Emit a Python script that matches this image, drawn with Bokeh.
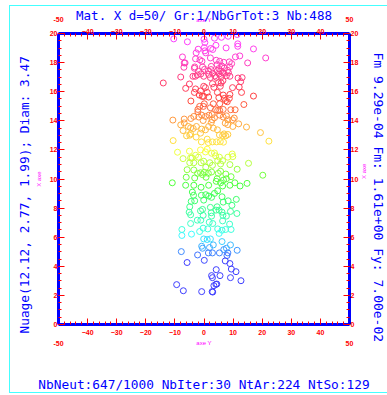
import colorsys
import numpy as np
from bokeh.plotting import figure
from bokeh.models import Title, FixedTicker, LinearAxis, LinearColorMapper, ColumnDataSource
from bokeh.transform import transform
from bokeh.embed import file_html
from bokeh.resources import INLINE

# horizontal coordinate ("axe Y") and vertical coordinate ("X axe") of each neutron
axe_y = [-10.4, -5.7, 0.0, 0.3, 3.6, 6.0, 8.3, 11.4, 11.6, 11.6, 4.1, 2.3, 0.1, -2.0, -2.7, 0.3, 0.6, 3.0, 7.6, 17.0,
         -7.4, -6.8, -6.5, -6.9, -2.9, -1.4, -0.7, 2.2, 4.2, 5.4, 6.8, 8.7, 9.5, 10.8, 12.3, 15.0, 21.2, -3.2, -3.3, -0.5,
         0.2, 2.5, 2.4, 4.5, 5.1, 6.1, 7.0, 5.7, 8.1, 8.8, -1.9, 1.5, 4.6, 6.5,
         -14.0, -8.0, -3.8, -3.0, -2.3, -1.1, -0.1, 1.6, 2.2, 3.0, 3.7, 4.2, 5.2, 6.0, 6.8, 7.7, 8.4, 8.9, 11.7, 12.6,
         13.1, 12.1, 12.9, 17.0, -6.3, -5.0, -2.9, -3.3, -1.2, -1.6, -0.1, 0.5, -0.6, -0.1, 1.1, 1.6, 2.9, 3.4, 5.0, 5.9,
         5.6, 6.5, 4.6, 5.1, 6.6, 7.0, 7.4, 8.0, 8.9, 8.7, 9.8, -4.5, 0.1, -0.2, -1.5, -2.1, 3.2, 5.4, 6.6, 9.2,
         10.7, 13.7, 2.2, 4.0, 5.4,
         -10.7, -10.6, -8.0, -6.8, -6.8, -7.2, -4.5, -3.5, -2.1, -1.8, -0.8, -0.3, 0.5, 1.7, 2.8, 2.5, 2.8, 3.6, 4.7, 5.4,
         6.6, 7.7, 8.2, 7.3, 8.2, 9.8, 9.9, 10.4, 11.9, 14.6, 19.4, 22.3, -5.4, -4.6, -3.7, -2.6, -0.8, -1.2, 0.5, 1.6,
         3.2, 4.6, 5.3, 6.4, 6.9, 7.5, 8.2, -6.0, -4.9, -4.6, -2.7, -0.9, 1.1, 1.5, 2.9, 4.3, 5.6, 6.7,
         -9.1, -7.2, -5.0, -4.6, -4.9, -3.5, -4.1, -2.9, -1.9, -1.2, 0.5, 1.1, 2.6, 3.6, 4.0, 4.7, 5.3, 6.4, 5.7, 8.2,
         9.7, 9.9, 8.9, 15.3, -1.0, -0.1, 2.0, 2.9, 0.6, -5.8, -3.5, -2.2, -1.2, -0.5, 0.1, 1.5, 2.6, 4.9, 5.7, 7.5,
         11.4, 7.7, 9.3, 20.2, -10.9, -6.1, -3.2, 0.7, 4.5, 6.7, -6.3, -3.5, -1.0, 1.6, 4.2, 5.7, 6.4, 8.9, 10.6, 12.4,
         14.8,
         -4.0, -3.6, -0.9, -0.1, 0.6, 1.6, 2.6, 3.6, 4.7, -4.4, -3.2, 6.2, 6.6, 8.3, 11.1, -4.9, -5.1, -4.6, -1.2, -0.5,
         -0.3, -2.3, -1.1, 2.5, 2.6, 2.2, 4.5, 4.1, 5.2, 6.2, 6.5, 9.1, 9.6, 11.3, 7.7, -4.6, 1.8, 3.0, 6.4, 8.8,
         -7.6, -7.6, -4.3, -1.5, -0.3, 1.3, -0.1, 1.1, 2.2, 4.7, 6.2, 7.4, 9.3, 5.2, 6.2, -0.8, -0.5, 1.9, 3.2, 2.9,
         1.5, 5.3, 6.8, 7.7, 8.2, 7.9, 9.1, 11.4, -7.8, -2.2, 0.1, -5.8, 7.3, 8.9,
         9.4, 4.2, 11.0, 2.6, 2.9, 5.5, 9.1, 12.7, 4.1, 4.4, 3.4, -9.4, -7.1, -0.8, 2.8, 3.0]
axe_x = [19.63, 19.43, 19.61, 19.38, 19.68, 19.74, 19.81, 19.93, 19.29, 19.12, 19.19, 18.97, 19.03, 18.92, 18.67, 18.81,
         18.67, 18.90, 19.01, 18.94,
         18.39, 17.98, 17.98, 17.68, 18.26, 18.19, 18.09, 18.32, 18.16, 18.09, 18.02, 18.05, 17.93, 18.39, 18.46, 17.98,
         18.32, 17.70, 17.61, 17.70, 17.54, 17.74, 17.52, 17.86, 17.59, 17.77, 17.63, 17.43, 17.47, 17.70, 17.40, 17.43,
         17.43, 17.31,
         16.60, 17.01, 17.06, 17.06, 17.15, 17.22, 17.06, 17.19, 16.97, 17.26, 17.08, 16.99, 17.22, 17.03, 17.26, 17.10,
         17.31, 17.06, 16.94, 16.69, 16.97, 16.32, 15.95, 15.70, 16.23, 16.53, 16.19, 15.95, 16.05, 15.77, 16.37, 16.28,
         15.68, 15.68, 15.95, 15.63, 16.55, 16.30, 16.62, 16.60, 16.37, 16.76, 15.95, 15.59, 15.77, 15.54, 15.38, 15.31,
         15.81, 15.54, 16.28, 15.36, 15.17, 14.99, 14.99, 14.78, 15.17, 15.17, 14.78, 14.76, 14.76, 15.12, 14.90, 14.76,
         14.71,
         14.05, 12.64, 13.72, 13.86, 14.12, 13.33, 14.16, 14.30, 14.62, 14.26, 14.39, 14.02, 14.30, 14.39, 14.43, 13.88,
         14.07, 14.21, 14.71, 14.39, 14.26, 14.34, 14.07, 13.84, 13.74, 14.07, 13.61, 14.19, 13.79, 13.57, 13.19, 12.60,
         13.61, 13.52, 13.47, 13.61, 13.43, 13.15, 13.38, 13.61, 13.50, 13.38, 13.03, 12.99, 13.10, 12.97, 13.06, 12.97,
         13.01, 13.10, 12.88, 12.55, 12.74, 12.50, 12.55, 12.55, 12.57, 12.53,
         11.84, 11.40, 11.91, 11.45, 11.12, 11.12, 11.45, 11.63, 11.50, 12.00, 11.86, 12.05, 11.77, 11.79, 11.59, 11.26,
         11.50, 11.26, 11.03, 11.50, 11.72, 11.54, 10.99, 11.08, 11.12, 11.22, 11.12, 10.94, 10.81, 10.64, 10.62, 10.39,
         10.43, 10.30, 10.46, 10.39, 10.48, 10.39, 10.53, 10.34, 10.67, 10.02, 10.16, 10.26, 9.74, 10.12, 10.07, 10.12,
         10.02, 9.93, 9.57, 9.57, 9.43, 9.57, 9.84, 9.74, 9.52, 9.57, 9.74, 9.52, 9.70,
         9.10, 8.88, 8.88, 8.55, 8.92, 8.83, 8.74, 9.01, 9.19, 8.46, 8.50, 8.78, 8.41, 8.50, 8.60, 8.09, 7.72, 7.54, 7.81,
         7.91, 7.50, 7.17, 7.17, 7.68, 7.45, 8.05, 8.09, 7.86, 7.86, 7.72, 7.50, 7.77, 8.19, 7.63, 7.45, 6.94, 7.03, 6.94,
         7.12, 6.90,
         6.53, 6.12, 6.21, 6.39, 6.62, 6.57, 5.88, 5.84, 5.88, 6.57, 6.48, 6.53, 6.53, 6.26, 5.70, 5.38, 5.24, 5.29, 5.47,
         4.92, 4.92, 4.92, 5.15, 5.24, 4.92, 4.74, 5.47, 5.10, 5.01, 4.78, 4.41, 4.26, 4.37, 4.19,
         3.81, 3.77, 3.63, 3.36, 3.22, 3.36, 3.22, 3.01, 2.76, 2.78, 2.67, 2.74, 2.32, 2.26, 2.26, 2.23]

x_ticks = [-50, -40, -30, -20, -10, 0, 10, 20, 30, 40, 50]
y_ticks = [0, 2, 4, 6, 8, 10, 12, 14, 16, 18, 20]

title_text = "Mat. X d=50/ Gr:1/NbGrTot:3 Nb:488"
bottom_text = "NbNeut:647/1000 NbIter:30 NtAr:224 NtSo:129"
left_text = "Nuage(12.12, 2.77, 1.99); Diam: 3.47"
right_text = "Fm 9.29e-04 Fm: 1.61e+00 Fy: 7.00e-02"

# rainbow colour scale along the vertical coordinate (hue anchors, degrees)
hue_at = [2, 4.3, 5, 6.5, 8, 9, 10, 11, 12, 13, 14, 15, 16, 17, 18, 19, 20]
hue_deg = [240, 240, 215, 170, 145, 125, 110, 85, 60, 45, 30, 10, -5, -20, -40, -55, -65]
palette = []
for v in np.linspace(2, 20, 256):
    h = (np.interp(v, hue_at, hue_deg) % 360) / 360
    r, g, b = colorsys.hsv_to_rgb(h, 0.75, 1.0)
    palette.append("#%02x%02x%02x" % (int(r * 255), int(g * 255), int(b * 255)))
mapper = LinearColorMapper(palette=palette, low=2, high=20)

src = ColumnDataSource(dict(y=axe_y, x=axe_x))

# frame sits at page x 58..349, y 33..324; the canvas is pinned so that its borders are roomy
BL, BT, BR, BB = 70, 45, 55, 115
OX, OY = 58 - BL, 33 - BT
W, H = BL + 291 + BR, BT + 291 + BB
cy = "#44ffff"
p = figure(width=W, height=H, x_range=(-50, 50), y_range=(0, 20),
           output_backend="svg", toolbar_location=None, tools="",
           min_border_left=BL, min_border_right=BR, min_border_top=BT, min_border_bottom=BB,
           background_fill_color="white", border_fill_alpha=0)
p.styles = {
    "position": "fixed", "left": "%dpx" % OX, "top": "%dpx" % OY,
    "width": "%dpx" % W, "height": "%dpx" % H, "max-width": "none", "max-height": "none",
    "background-color": "white",
    "background-image": "linear-gradient(%s,%s), linear-gradient(%s,%s), linear-gradient(%s,%s)" % (cy, cy, cy, cy, cy, cy),
    "background-size": "1px 388px, %dpx 1px, %dpx 1px" % (W, W),
    "background-position": "%dpx %dpx, %dpx %dpx, %dpx %dpx" % (9 - OX, 5 - OY, 9 - OX, 5 - OY, 9 - OX, 392 - OY),
    "background-repeat": "no-repeat",
}
p.grid.visible = False
p.outline_line_color = None

p.add_layout(LinearAxis(), "above")
p.add_layout(LinearAxis(), "right")

xt = FixedTicker(ticks=x_ticks, minor_ticks=list(range(-50, 51, 2)))
yt = FixedTicker(ticks=y_ticks, minor_ticks=[v / 2 for v in range(0, 41)])
for ax in p.axis:
    ax.axis_line_color = "blue"
    ax.axis_line_width = 3
    ax.major_tick_line_color = "red"
    ax.minor_tick_line_color = "red"
    ax.major_tick_in = 6
    ax.major_tick_out = 0
    ax.minor_tick_in = 3
    ax.minor_tick_out = 0
    ax.major_label_text_color = "red"
    ax.major_label_text_font = "Liberation Sans"
    ax.major_label_text_font_style = "bold"
    ax.major_label_text_font_size = "7px"
    ax.major_label_text_line_height = 1.6
    ax.axis_label_text_color = "magenta"
    ax.axis_label_text_font = "Liberation Sans"
    ax.axis_label_text_font_style = "normal"
    ax.axis_label_text_font_size = "6px"
for ax in p.xaxis:
    ax.ticker = xt
    ax.axis_label = "axe Y"
for ax in p.yaxis:
    ax.ticker = yt
    ax.axis_label = "X axe"

top, bottom, left, right = p.above[0], p.below[0], p.left[0], p.right[0]
top.major_label_overrides = {-50: "-50\n ", 50: "50\n "}
bottom.major_label_overrides = {-50: " \n-50", 50: " \n50"}
top.major_label_standoff = -1
bottom.major_label_standoff = 4
left.major_label_standoff = 1
right.major_label_standoff = 1
top.axis_label_standoff = -10
bottom.axis_label_standoff = -10
left.axis_label_standoff = 5
right.axis_label_standoff = 3
right.axis_label_orientation = 1.5708

p.scatter("y", "x", source=src, marker="circle", size=6, fill_color=None,
          line_color=transform("x", mapper), line_width=1)

def side_title(text, side, size, align, offset, standoff, valign="bottom"):
    p.add_layout(Title(text=text, align=align, offset=offset, standoff=standoff, vertical_align=valign,
                       text_font="DejaVu Sans Mono", text_font_style="normal",
                       text_font_size=size, text_color="blue"), side)

side_title(title_text, "above", "12.5px", "center", 0, -16)
side_title(bottom_text, "below", "12.8px", "center", 0, 57, valign="top")
side_title(left_text, "left", "12.8px", "left", -9, 2)
side_title(right_text, "right", "13px", "left", 19, -5)

open("out.html", "w").write(file_html(p, INLINE))
